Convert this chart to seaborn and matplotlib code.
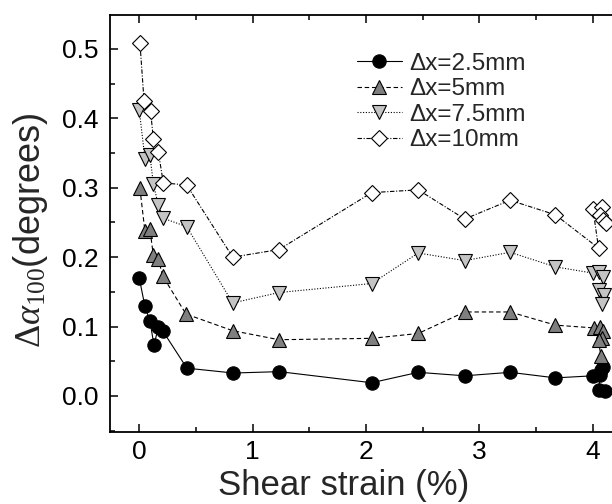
import matplotlib
matplotlib.use("Agg")
import matplotlib.pyplot as plt
import seaborn as sns
import pandas as pd
from matplotlib.ticker import MultipleLocator

# ---- data ----
labels = ["\u0394x=2.5mm", "\u0394x=5mm", "\u0394x=7.5mm", "\u0394x=10mm"]

x_25 = [0.0, 0.05, 0.094, 0.13, 0.168, 0.21, 0.42, 0.83, 1.235, 2.05, 2.46, 2.87, 3.27, 3.67,
        4.00, 4.06, 4.09, 4.07, 4.05, 4.11]
y_25 = [0.170, 0.129, 0.108, 0.073, 0.099, 0.093, 0.040, 0.033, 0.035, 0.019, 0.034, 0.029, 0.034, 0.026,
        0.029, 0.030, 0.042, 0.037, 0.008, 0.007]

x_5 = [0.006, 0.05, 0.094, 0.124, 0.168, 0.206, 0.412, 0.824, 1.232, 2.05, 2.46, 2.87, 3.27, 3.67,
       4.01, 4.06, 4.09, 4.08, 4.05, 4.07]
y_5 = [0.299, 0.237, 0.240, 0.203, 0.198, 0.173, 0.118, 0.094, 0.081, 0.083, 0.090, 0.121, 0.121, 0.102,
       0.098, 0.100, 0.093, 0.083, 0.081, 0.057]

x_75 = [0.0, 0.05, 0.094, 0.124, 0.168, 0.212, 0.418, 0.824, 1.232, 2.05, 2.46, 2.87, 3.27, 3.67,
        4.00, 4.05, 4.09, 4.05, 4.10, 4.08]
y_75 = [0.412, 0.342, 0.347, 0.306, 0.275, 0.256, 0.244, 0.134, 0.149, 0.162, 0.206, 0.195, 0.207, 0.186,
        0.177, 0.179, 0.172, 0.153, 0.146, 0.132]

x_10 = [0.006, 0.042, 0.10, 0.124, 0.168, 0.212, 0.418, 0.824, 1.232, 2.05, 2.46, 2.87, 3.27, 3.67,
        4.05, 4.00, 4.08, 4.06, 4.09, 4.12]
y_10 = [0.509, 0.4255, 0.410, 0.371, 0.352, 0.307, 0.304, 0.200, 0.211, 0.293, 0.297, 0.255, 0.282, 0.261,
        0.213, 0.270, 0.273, 0.261, 0.254, 0.249]

xs = [x_25, x_5, x_75, x_10]
ys = [y_25, y_5, y_75, y_10]

# ---- style ----
sns.set_style("ticks")
plt.rcParams["font.family"] = ["Liberation Sans", "DejaVu Sans"]
plt.rcParams["mathtext.fontset"] = "custom"
plt.rcParams["mathtext.rm"] = "Liberation Serif"
plt.rcParams["mathtext.it"] = "Liberation Serif:italic"

styles = [
    dict(marker="o", markersize=9.6, markerfacecolor="black", linestyle="-"),
    dict(marker="^", markersize=10.5, markerfacecolor="#7f7f7f", linestyle=(0, (4, 2.5))),
    dict(marker="v", markersize=10.5, markerfacecolor="#c4c4c4", linestyle=(0, (1, 1.5))),
    dict(marker="D", markersize=8.0, markerfacecolor="white", linestyle=(0, (4, 1.5, 1, 1.5))),
]

fig = plt.figure(figsize=(6.12, 5.04), dpi=100)
ax = fig.add_axes([110 / 612, 72 / 504, 522 / 612, 417 / 504])

for xv, yv, lab, st in zip(xs, ys, labels, styles):
    df = pd.DataFrame({"x": xv, "y": yv})
    sns.lineplot(data=df, x="x", y="y", ax=ax, sort=False, estimator=None,
                 color="black", linewidth=0.8, markeredgecolor="black",
                 markeredgewidth=0.8, label=lab, **st)

ax.set_xlim(-0.258, 4.345)
ax.set_ylim(-0.052, 0.549)

ax.xaxis.set_major_locator(MultipleLocator(1))
ax.xaxis.set_minor_locator(MultipleLocator(0.5))
ax.yaxis.set_major_locator(MultipleLocator(0.1))
ax.yaxis.set_minor_locator(MultipleLocator(0.05))
ax.yaxis.set_major_formatter(matplotlib.ticker.FormatStrFormatter("%.1f"))

ax.tick_params(which="both", direction="in", top=True, right=False, width=1.1, colors="black")
ax.tick_params(which="major", length=6)
ax.tick_params(which="minor", length=3.5)
ax.tick_params(axis="both", which="major", labelsize=19)
ax.tick_params(axis="y", which="major", pad=8)
ax.tick_params(axis="x", which="major", pad=6)

for sp in ax.spines.values():
    sp.set_linewidth(1.3)
    sp.set_color("black")

ax.set_xlabel("Shear strain (%)", fontsize=25, labelpad=3)
ax.set_ylabel(r"$\Delta\alpha_{\mathit{100}}$(degrees)", fontsize=26, labelpad=9)
ax.xaxis.label.set_x(0.448)
ax.yaxis.label.set_y(0.484)

leg = ax.legend(loc="upper left", bbox_to_anchor=(0.44, 0.950), frameon=False,
                fontsize=17.5, handlelength=1.85, handletextpad=0.33,
                labelspacing=0.14, borderpad=0.2)

fig.savefig("out.png", dpi=100)
